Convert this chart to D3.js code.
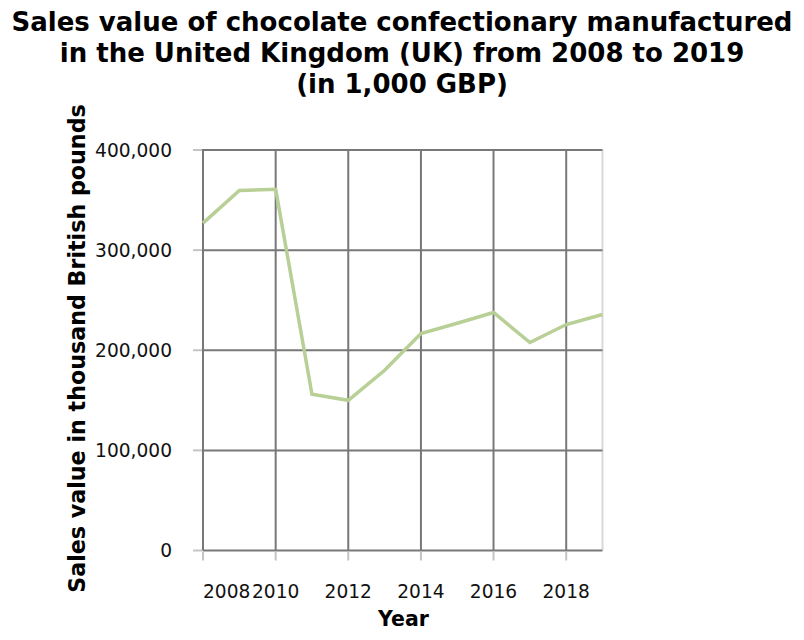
<!DOCTYPE html>
<html>
<head>
<meta charset="utf-8">
<script src="https://cdn.jsdelivr.net/npm/d3@7"></script>
<style>
  html, body { margin: 0; padding: 0; background: #fff; }
  svg { display: block; font-family: "DejaVu Sans", sans-serif; }
</style>
</head>
<body>
<svg id="chart" width="804" height="640"></svg>
<script>
const years = [2008, 2009, 2010, 2011, 2012, 2013, 2014, 2015, 2016, 2017, 2018, 2019];
const salesValues = [327000, 359500, 360700, 156000, 150000, 180000, 216700, 227000, 237700, 207700, 225700, 235700];
const xTickYears = [2008, 2010, 2012, 2014, 2016, 2018];
const yTickValues = [0, 100000, 200000, 300000, 400000];
const titleLines = [
  "Sales value of chocolate confectionary manufactured",
  "in the United Kingdom (UK) from 2008 to 2019",
  "(in 1,000 GBP)"
];
const xAxisTitle = "Year";
const yAxisTitle = "Sales value in thousand British pounds";

const svg = d3.select("#chart");
const mLeft = 203, mRight = 602.5, mTop = 150, mBottom = 550.5;

const x = d3.scaleTime()
  .domain([new Date(2008, 0, 1), new Date(2019, 0, 1)])
  .range([mLeft, mRight]);
const y = d3.scaleLinear().domain([0, 400000]).range([mBottom, mTop]);

const data = years.map((yr, i) => ({ date: new Date(yr, 0, 1), value: salesValues[i] }));

// Title
const title = svg.append("text")
  .attr("text-anchor", "middle")
  .attr("font-weight", "bold")
  .attr("font-size", 26)
  .attr("fill", "#000");
titleLines.forEach((t, i) => {
  title.append("tspan").attr("x", 402).attr("y", 31 + i * 31).text(t);
});

// Right border
svg.append("line")
  .attr("x1", mRight).attr("x2", mRight)
  .attr("y1", mTop).attr("y2", mBottom)
  .attr("stroke", "#d9d9d9").attr("stroke-width", 2);

// Horizontal grid
svg.append("g").selectAll("line").data(yTickValues).join("line")
  .attr("x1", mLeft).attr("x2", mRight)
  .attr("y1", d => y(d)).attr("y2", d => y(d))
  .attr("stroke", "#787878").attr("stroke-width", 2);

// Vertical grid
svg.append("g").selectAll("line").data(xTickYears).join("line")
  .attr("x1", d => x(new Date(d, 0, 1))).attr("x2", d => x(new Date(d, 0, 1)))
  .attr("y1", mTop - 1).attr("y2", mBottom)
  .attr("stroke", "#787878").attr("stroke-width", 2);

// Y ticks (light)
svg.append("g").selectAll("line").data(yTickValues).join("line")
  .attr("x1", mLeft - 10).attr("x2", mLeft - 1)
  .attr("y1", d => y(d)).attr("y2", d => y(d))
  .attr("stroke", "#c4c4c4").attr("stroke-width", 2);

// X ticks (light)
svg.append("g").selectAll("line").data(xTickYears).join("line")
  .attr("x1", d => x(new Date(d, 0, 1))).attr("x2", d => x(new Date(d, 0, 1)))
  .attr("y1", mBottom + 1).attr("y2", mBottom + 10)
  .attr("stroke", "#c4c4c4").attr("stroke-width", 2);

// Y tick labels
const fmt = d3.format(",");
svg.append("g").selectAll("text").data(yTickValues).join("text")
  .attr("x", 172).attr("y", d => y(d))
  .attr("dy", "0.35em")
  .attr("text-anchor", "end")
  .attr("font-size", 18.6)
  .attr("fill", "#111")
  .text(d => fmt(d));

// X tick labels
svg.append("g").selectAll("text").data(xTickYears).join("text")
  .attr("x", d => x(new Date(d, 0, 1)))
  .attr("y", 597.5)
  .attr("text-anchor", (d, i) => i === 0 ? "start" : "middle")
  .attr("font-size", 18.6)
  .attr("fill", "#111")
  .text(d => d);

// Axis titles
svg.append("text")
  .attr("x", 403.5).attr("y", 626)
  .attr("text-anchor", "middle")
  .attr("font-weight", "bold")
  .attr("font-size", 20.5)
  .text(xAxisTitle);

svg.append("text")
  .attr("transform", "translate(84.5," + 348.5 + ") rotate(-90)")
  .attr("text-anchor", "middle")
  .attr("font-weight", "bold")
  .attr("font-size", 22.2)
  .text(yAxisTitle);

// Line
const line = d3.line().x(d => x(d.date)).y(d => y(d.value));
svg.append("path")
  .datum(data)
  .attr("d", line)
  .attr("fill", "none")
  .attr("stroke", "#b8cf96")
  .attr("stroke-width", 3.5)
  .attr("stroke-linejoin", "miter");
</script>
</body>
</html>
